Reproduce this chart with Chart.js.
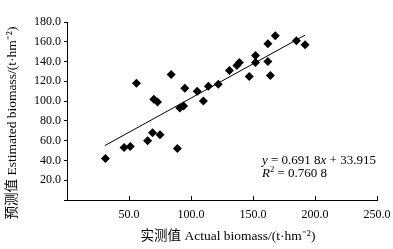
<!DOCTYPE html>
<html>
<head>
<meta charset="utf-8">
<script src="https://cdn.jsdelivr.net/npm/chart.js@4.4.1/dist/chart.umd.min.js"></script>
<style>
  body { margin: 0; background: #fff; }
  .wrap { width: 393px; height: 249px; position: relative; }
</style>
</head>
<body>
<div class="wrap"><canvas id="bioChart"></canvas></div>
<script>
// Measured (actual) vs estimated biomass, t/hm2
const actual = [31, 46, 51, 65, 69, 75, 89, 91, 94, 56, 70, 73, 84, 95, 105,
  110, 114, 122, 131, 137, 139, 147, 152, 152, 162, 164, 162, 168, 185, 192];
const estimated = [42, 53, 54, 60, 68, 66, 52, 93, 95, 118, 102, 99, 127, 113, 110,
  100, 115, 117, 131, 136, 139, 125, 146, 139, 140, 126, 158, 166, 161, 157];

// Ends of the fitted line
const trendX = [30.5, 192];
const trendY = [55.0, 166.7];

const xTicks = [0, 50, 100, 150, 200, 250];
const yTicks = [0, 20, 40, 60, 80, 100, 120, 140, 160, 180];

const serif = "'Liberation Serif', 'Times New Roman', 'Noto Sans CJK SC', serif";

// Draw a run of text pieces, some italic, some raised
function drawRuns(ctx, x, y, runs) {
  runs.forEach(function(r) {
    const size = r.sup ? 8.5 : 13;
    ctx.font = (r.i ? 'italic ' : '') + size + 'px ' + serif;
    ctx.fillText(r.t, x, r.sup ? y - 5 : y);
    x += ctx.measureText(r.t).width;
  });
}

const textPlugin = {
  id: 'textPlugin',
  afterDraw: function(chart) {
    const ctx = chart.ctx;
    const xs = chart.scales.x;
    const bottom = chart.chartArea.bottom;
    ctx.save();

    // small x ticks pointing into the plot
    ctx.strokeStyle = '#000';
    ctx.lineWidth = 1;
    ctx.beginPath();
    xTicks.forEach(function(v) {
      if (v === 0) return;
      const px = Math.round(xs.getPixelForValue(v)) + 0.5;
      ctx.moveTo(px, bottom);
      ctx.lineTo(px, bottom - 4);
    });
    ctx.stroke();

    ctx.fillStyle = '#000';
    ctx.textBaseline = 'alphabetic';
    ctx.textAlign = 'left';

    // regression equation
    drawRuns(ctx, 262, 164, [
      { t: 'y', i: true }, { t: ' = 0.691 8' }, { t: 'x', i: true }, { t: ' + 33.915' }
    ]);
    drawRuns(ctx, 262, 177, [
      { t: 'R', i: true }, { t: '2', sup: true }, { t: ' = 0.760 8' }
    ]);

    // axis titles
    ctx.font = '13.5px ' + serif;
    ctx.textAlign = 'center';
    ctx.textBaseline = 'middle';
    ctx.fillText('实测值 Actual biomass/(t·hm⁻²)', 228, 236);

    ctx.translate(12, 123);
    ctx.rotate(-Math.PI / 2);
    ctx.fillText('预测值 Estimated biomass/(t·hm⁻²)', 0, 0);
    ctx.restore();
  }
};

document.addEventListener('DOMContentLoaded', function() {
  const ctx = document.getElementById('bioChart').getContext('2d');
  const bioChart = new Chart(ctx, {
    type: 'scatter',
    data: {
      datasets: [
        {
          label: 'Samples',
          data: actual.map(function(v, i) { return { x: v, y: estimated[i] }; }),
          pointStyle: 'rectRot',
          pointRadius: 4.5,
          backgroundColor: '#000',
          borderColor: '#000',
          borderWidth: 0
        },
        {
          label: 'Fit',
          type: 'line',
          data: trendX.map(function(v, i) { return { x: v, y: trendY[i] }; }),
          borderColor: '#000',
          borderWidth: 1,
          pointRadius: 0,
          fill: false
        }
      ]
    },
    options: {
      responsive: true,
      maintainAspectRatio: false,
      animation: false,
      layout: {
        padding: { top: 22, right: 16, left: 0, bottom: 0 }
      },
      plugins: {
        legend: { display: false },
        tooltip: { enabled: false }
      },
      scales: {
        x: {
          type: 'linear',
          min: 0,
          max: 250,
          afterBuildTicks: function(scale) {
            scale.ticks = xTicks.map(function(v) { return { value: v }; });
          },
          afterFit: function(scale) {
            scale.height = 49;
            scale.paddingLeft = 0;
            scale.paddingRight = 0;
          },
          grid: { drawOnChartArea: false, drawTicks: false },
          border: { color: '#000', width: 1 },
          ticks: {
            padding: 8,
            color: '#000',
            font: { family: serif, size: 12 },
            callback: function(v) { return v === 0 ? '' : v.toFixed(1); }
          }
        },
        y: {
          type: 'linear',
          min: 0,
          max: 180,
          afterBuildTicks: function(scale) {
            scale.ticks = yTicks.map(function(v) { return { value: v }; });
          },
          afterFit: function(scale) {
            scale.width = 67;
            scale.paddingTop = 0;
            scale.paddingBottom = 0;
          },
          grid: { drawOnChartArea: false, tickLength: 3, color: '#000' },
          border: { color: '#000', width: 1 },
          ticks: {
            padding: 3,
            color: '#000',
            font: { family: serif, size: 12 },
            callback: function(v) { return v === 0 ? '' : v.toFixed(1); }
          }
        }
      }
    },
    plugins: [textPlugin]
  });
});
</script>
</body>
</html>
